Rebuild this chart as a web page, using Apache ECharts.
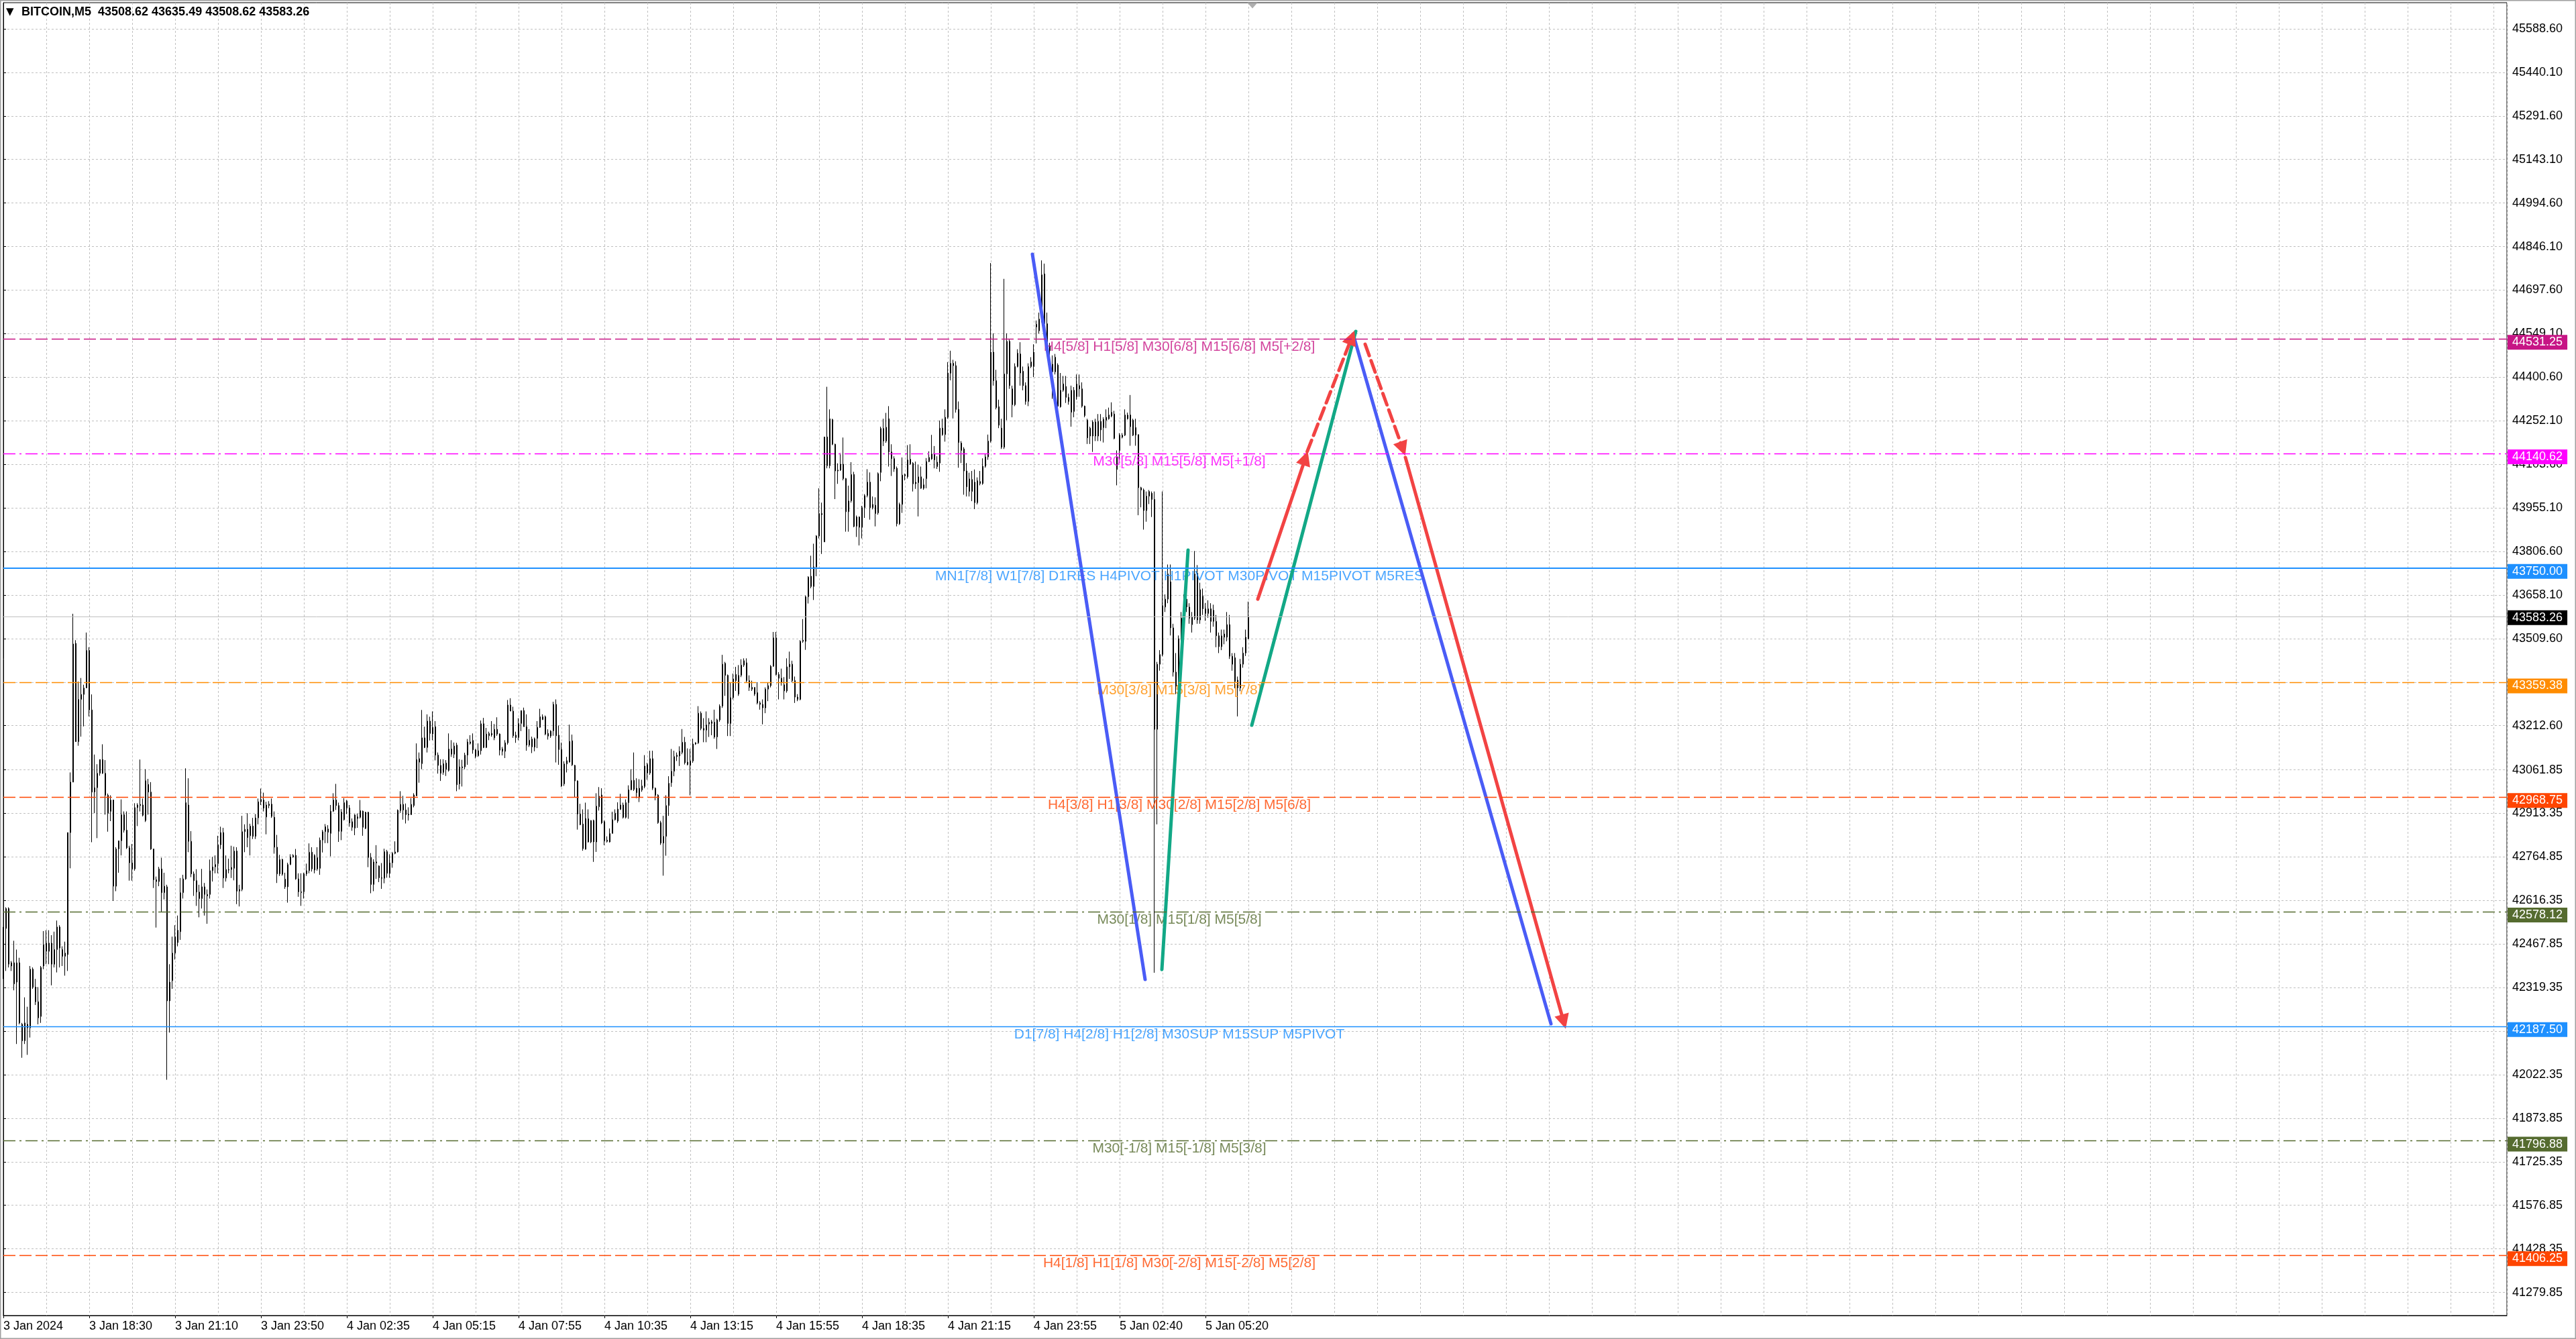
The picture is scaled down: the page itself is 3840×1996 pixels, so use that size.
<!DOCTYPE html>
<html><head><meta charset="utf-8">
<script src="https://cdn.jsdelivr.net/npm/echarts@6/dist/echarts.min.js"></script>
<style>html,body{margin:0;padding:0;background:#fff;overflow:hidden}#c{width:3840px;height:1996px}</style>
</head><body><div id="c"></div>
<script>
// ---------------- DATA ----------------
const symbolName = 'BITCOIN,M5';
const lastQuote = [43508.62, 43635.49, 43508.62, 43583.26]; // open high low close
const timeLabels = ['3 Jan 2024','3 Jan 18:30','3 Jan 21:10','3 Jan 23:50','4 Jan 02:35','4 Jan 05:15','4 Jan 07:55','4 Jan 10:35','4 Jan 13:15','4 Jan 15:55','4 Jan 18:35','4 Jan 21:15','4 Jan 23:55','5 Jan 02:40','5 Jan 05:20'];
const priceTicks = [45588.60,45440.10,45291.60,45143.10,44994.60,44846.10,44697.60,44549.10,44400.60,44252.10,44103.60,43955.10,43806.60,43658.10,43509.60,43361.10,43212.60,43061.85,42913.35,42764.85,42616.35,42467.85,42319.35,42170.85,42022.35,41873.85,41725.35,41576.85,41428.35,41279.85];
// tick labels fully covered by level price boxes in the picture
const coveredTickLabels = [43361.10, 42170.85];
// each candle: [open, close, low, high]
const candles = [
[42443,42521,42349,42526],[42521,42589,42376,42593],[42589,42399,42388,42593],[42393,42404,42376,42410],[42404,42332,42310,42479],
[42338,42404,42127,42449],[42404,42199,42194,42421],[42194,42138,42080,42199],[42138,42199,42127,42286],[42194,42182,42090,42254],
[42182,42382,42149,42393],[42382,42321,42315,42388],[42321,42271,42260,42349],[42271,42216,42194,42321],[42221,42388,42199,42393],
[42393,42465,42382,42512],[42471,42443,42399,42515],[42443,42471,42399,42515],[42471,42399,42327,42498],[42449,42399,42388,42510],
[42449,42526,42371,42548],[42526,42454,42388,42532],[42449,42426,42393,42460],[42426,42437,42360,42476],[42432,42848,42376,42848],
[42848,43020,42726,43053],[43020,43491,43020,43594],[43493,43158,43158,43504],[43158,43302,43144,43363],[43302,43319,43175,43375],
[43319,43341,43210,43352],[43341,43469,43341,43530],[43469,43266,43244,43480],[43266,42986,42815,43319],[42986,43001,42914,43114],
[43001,43050,42829,43081],[43050,43097,43042,43097],[43097,43050,43048,43149],[43050,42975,42909,43095],[42975,42914,42851,42981],
[42920,42959,42887,42975],[42959,42665,42615,42959],[42665,42792,42648,42798],[42792,42820,42711,42820],[42820,42909,42770,42961],
[42909,42856,42848,42920],[42856,42796,42792,42920],[42796,42745,42684,42803],[42745,42724,42684,42809],[42724,42933,42718,42948],
[42933,42942,42870,42948],[42940,42944,42920,43097],[42942,42907,42903,42964],[42889,43025,42884,43064],[43012,42986,42909,43031],
[42986,42792,42789,43020],[42792,42687,42659,42792],[42687,42681,42524,42698],[42681,42724,42665,42731],[42724,42643,42576,42762],
[42643,42665,42620,42711],[42663,42274,42005,42670],[42274,42338,42166,42399],[42343,42437,42315,42493],[42437,42493,42415,42532],
[42473,42515,42460,42565],[42510,42643,42482,42693],[42643,42690,42623,42704],[42690,42950,42687,43067],[42942,42818,42781,43033],
[42818,42707,42696,42853],[42707,42684,42632,42715],[42684,42645,42598,42723],[42645,42623,42559,42670],[42623,42663,42589,42724],
[42663,42637,42565,42676],[42632,42637,42537,42654],[42637,42718,42623,42756],[42718,42731,42681,42765],[42731,42739,42709,42770],
[42742,42806,42709,42837],[42806,42848,42792,42868],[42848,42693,42659,42864],[42693,42722,42681,42770],[42720,42722,42709,42759],
[42722,42729,42693,42803],[42726,42785,42685,42800],[42785,42648,42604,42798],[42648,42654,42596,42670],[42654,42851,42648,42905],
[42851,42859,42781,42876],[42859,42831,42798,42914],[42837,42870,42770,42878],[42870,42835,42826,42898],[42835,42898,42826,42911],
[42898,42953,42876,42964],[42953,42961,42942,42998],[42959,42931,42920,42984],[42901,42942,42842,42953],[42940,42945,42931,42955],
[42945,42903,42898,42964],[42900,42798,42776,42920],[42798,42707,42676,42840],[42707,42756,42700,42772],[42756,42706,42701,42759],
[42689,42663,42656,42711],[42663,42739,42609,42745],[42739,42765,42737,42774],[42765,42770,42762,42774],[42770,42690,42687,42792],
[42690,42646,42629,42709],[42643,42646,42598,42709],[42646,42707,42623,42711],[42707,42718,42700,42742],[42718,42781,42709,42811],
[42781,42724,42715,42798],[42720,42770,42709,42774],[42762,42724,42718,42798],[42726,42822,42704,42831],
[42822,42851,42780,42857],[42851,42868,42812,42877],[42860,42849,42812,42873],[42845,42921,42767,42942],[42921,42959,42918,42982],
[42959,42940,42925,43014],[42940,42852,42816,42950],[42852,42918,42822,42928],[42892,42950,42889,42965],[42955,42932,42911,42959],
[42932,42881,42868,42942],[42885,42866,42854,42896],[42863,42908,42839,42911],[42896,42902,42864,42913],[42900,42923,42896,42959],
[42921,42866,42837,42923],[42862,42917,42860,42919],[42917,42763,42730,42919],[42763,42671,42641,42778],[42671,42748,42648,42757],
[42744,42748,42690,42805],[42734,42694,42679,42736],[42694,42692,42656,42744],[42692,42783,42675,42793],[42783,42709,42694,42789],
[42709,42745,42694,42774],[42745,42777,42728,42782],[42777,42782,42774,42818],[42782,42924,42780,42927],[42923,42944,42915,42989],
[42944,42925,42892,42973],[42925,42909,42879,42947],[42911,42908,42889,42934],[42909,42944,42908,42965],[42940,42976,42934,42982],
[42973,43097,42973,43152],[43088,43100,43018,43121],[43083,43171,43064,43266],[43171,43138,43136,43209],[43138,43228,43121,43251],
[43228,43186,43162,43243],[43184,43207,43163,43261],[43209,43112,43094,43228],[43112,43077,43049,43121],[43077,43050,43024,43098],
[43053,43083,43045,43098],[43085,43064,43041,43095],[43060,43133,43056,43186],[43133,43115,43106,43163],[43115,43143,43102,43155],
[43146,43011,42989,43154],[43014,43072,42995,43098],[43072,43069,43005,43096],[43072,43112,43064,43120],[43112,43157,43079,43167],
[43152,43157,43148,43180],[43162,43130,43117,43186],[43130,43108,43101,43133],[43110,43127,43106,43152],[43127,43219,43114,43230],
[43219,43138,43136,43239],[43138,43184,43136,43205],[43178,43186,43163,43192],[43186,43181,43175,43228],[43171,43200,43163,43218],
[43200,43184,43178,43241],[43184,43129,43111,43186],[43133,43125,43111,43140],[43125,43154,43102,43163],[43154,43283,43148,43300],
[43283,43262,43262,43306],[43262,43178,43171,43277],[43180,43172,43154,43192],[43172,43220,43163,43238],[43220,43264,43194,43264],
[43264,43209,43209,43274],[43209,43146,43127,43251],[43146,43163,43140,43201],[43140,43167,43119,43175],[43139,43168,43125,43172],
[43169,43207,43136,43228],[43207,43243,43205,43270],[43233,43243,43232,43251],[43243,43184,43180,43247],[43186,43177,43165,43200],
[43177,43194,43171,43197],[43195,43285,43178,43294],[43285,43178,43087,43302],[43180,43131,43079,43213],[43131,43007,43003,43155],
[43014,43082,43007,43091],[43082,43093,43053,43106],[43088,43159,43087,43216],[43161,43079,43075,43182],[43077,43024,42969,43079],
[43024,42911,42858,43026],[42911,42875,42873,42946],[42877,42793,42786,42927],[42791,42896,42790,42950],[42895,42816,42814,42927],
[42816,42889,42812,42890],[42889,42816,42748,42892],[42816,42938,42782,42982],[42936,42972,42923,43003],[42976,42881,42877,42999],
[42885,42820,42805,42889],[42818,42822,42814,42835],[42816,42845,42814,42862],[42845,42892,42845,42919],[42892,42914,42889,42927],
[42887,42928,42881,42951],[42927,42942,42925,42980],[42942,42900,42896,42950],[42900,42950,42896,42961],[42950,42994,42895,43009],
[42994,43026,42992,43064],[43026,42995,42990,43121],[42999,42984,42965,43033],
[42967,42999,42952,43030],[42993,43007,42987,43028],[43005,43075,42999,43112],[43051,43080,43028,43086],[43051,43100,43045,43127],
[43100,42999,42993,43127],[42999,42975,42958,43002],[42975,42882,42878,42979],[42882,42812,42806,42888],[42812,42835,42701,42905],
[42835,42940,42769,42975],[42940,43016,42905,43040],[43018,43057,43004,43133],[43057,43107,43040,43127],[43107,43112,43092,43121],
[43109,43125,43075,43142],[43121,43156,43115,43201],[43156,43086,43080,43174],[43088,43080,43077,43135],[43077,43092,42975,43133],
[43092,43150,43086,43168],[43150,43154,43147,43156],[43154,43255,43150,43279],[43255,43203,43197,43261],[43203,43197,43156,43238],
[43197,43215,43156,43261],[43218,43224,43174,43238],[43220,43226,43180,43232],[43224,43174,43168,43267],[43174,43232,43133,43236],
[43232,43279,43226,43285],[43279,43422,43273,43454],[43425,43384,43314,43430],[43384,43220,43177,43387],[43220,43308,43177,43360],
[43308,43372,43302,43390],[43387,43366,43331,43413],[43320,43384,43314,43419],[43384,43419,43378,43439],[43419,43434,43413,43442],
[43427,43366,43360,43442],[43366,43343,43331,43384],[43343,43337,43331,43366],[43343,43320,43314,43343],[43325,43290,43285,43360],
[43290,43285,43267,43296],[43273,43285,43217,43302],[43273,43337,43255,43343],[43337,43349,43296,43360],[43349,43415,43343,43419],
[43415,43512,43413,43532],[43512,43387,43384,43532],[43387,43374,43302,43395],[43374,43360,43349,43407],[43352,43331,43302,43378],
[43331,43413,43325,43442],[43413,43422,43372,43465],[43422,43366,43360,43434],[43366,43310,43290,43380],[43310,43302,43296,43320],
[43302,43500,43299,43504],[43500,43504,43495,43576],[43500,43652,43471,43656],[43652,43719,43629,43722],[43722,43687,43681,43792],
[43687,43754,43641,43833],[43754,43859,43722,43862],[43859,43936,43851,44022],[43936,43932,43798,43973],[43839,44197,43839,44197],
[44197,44099,44090,44368],[44099,44259,44090,44291],[44256,44172,44169,44259],[44172,44081,43985,44174],[44081,44084,44037,44107],
[44084,44104,44081,44142],[44104,44055,44049,44195],[44055,43942,43874,44057],[43942,43979,43874,44031],[43979,44069,43973,44111],
[44069,43892,43889,44078],[43892,43924,43856,43929],[43924,43889,43827,43926],[43889,43956,43851,43962],[43956,43997,43921,44002],
[43997,44043,43991,44087],[44043,43956,43915,44076],[43956,43967,43950,43994],[43964,43936,43892,43991],[43938,44072,43932,44076],
[44076,44226,44046,44232],[44226,44183,44166,44259],[44183,44230,44177,44279],[44259,44146,44096,44302],[44146,44123,44064,44172],
[44123,44088,44078,44131],[44090,43901,43892,44096],[43901,43967,43897,43973],[43967,44067,43938,44127],[44064,44069,44049,44072],
[44061,44119,44055,44169],[44105,44121,44102,44172],[44107,44037,44011,44111],[44037,44043,44020,44113],[44041,44061,43926,44102],
[44061,44022,44020,44096],[44022,44034,44017,44055],[44055,44113,44022,44125],[44113,44127,44111,44148],[44122,44139,44119,44204],
[44139,44119,44090,44166],[44111,44096,44088,44131],
[44108,44227,44078,44253],[44227,44205,44201,44259],[44205,44264,44181,44291],[44264,44415,44259,44452],[44414,44448,44390,44491],
[44448,44440,44260,44460],[44440,44291,44280,44455],[44291,44178,44092,44318],[44176,44151,44108,44183],[44156,44081,44000,44162],
[44081,44027,43994,44108],[44011,44054,43994,44075],[44011,44052,43978,44081],[44043,43973,43951,44086],[43973,44048,43967,44059],
[44038,44045,44032,44081],[44038,44097,44034,44124],[44097,44129,44092,44140],[44129,44183,44119,44205],[44183,44486,44178,44790],
[44486,44389,44372,44550],[44389,44297,44291,44426],[44300,44237,44227,44324],[44227,44162,44156,44259],[44162,44412,44156,44736],
[44412,44523,44254,44550],[44523,44372,44361,44529],[44361,44307,44264,44372],[44307,44437,44302,44448],[44437,44483,44434,44496],
[44480,44415,44372,44520],[44421,44372,44356,44437],[44372,44318,44307,44383],[44318,44437,44302,44448],[44437,44453,44432,44469],
[44437,44486,44401,44513],[44572,44581,44516,44594],[44559,44599,44550,44621],[44594,44750,44588,44799],[44753,44583,44577,44788],
[44583,44507,44502,44621],[44491,44507,44432,44518],[44419,44445,44327,44475],[44419,44469,44410,44480],[44442,44302,44297,44448],
[44300,44356,44297,44415],[44356,44378,44351,44405],[44369,44332,44313,44405],[44332,44318,44307,44345],[44281,44356,44232,44372],
[44356,44284,44264,44367],[44334,44378,44324,44410],[44372,44361,44334,44410],[44361,44302,44297,44383],[44302,44270,44264,44304],
[44254,44194,44173,44259],[44200,44227,44173,44232],[44200,44248,44146,44254],[44248,44200,44183,44259],[44200,44250,44183,44275],
[44250,44221,44183,44275],[44229,44257,44178,44264],[44254,44264,44227,44291],[44259,44272,44256,44297],[44268,44281,44264,44315],
[44275,44192,44189,44286],[44086,44129,44032,44151],[44151,44203,44119,44210],[44196,44203,44192,44210],[44203,44272,44200,44291],
[44259,44272,44256,44280],[44272,44232,44167,44340],[44254,44203,44200,44259],[44229,44203,44167,44259],[44205,44024,43930,44205],
[44024,44016,43957,44027],[44016,43946,43881,44021],[43946,43995,43908,44011],[43995,44011,43968,44016],[44005,43984,43924,44011],
[43984,43200,42370,44011],[43200,43422,42876,43430],[43422,43455,43400,43470],[43455,43622,43449,44011],[43617,43644,43600,43660],
[43644,43730,43630,43762],[43703,43546,43520,43762],[43546,43395,43380,43560],[43395,43347,43320,43460],[43352,43509,43330,43520],
[43509,43579,43500,43600],[43579,43638,43560,43660],[43617,43644,43600,43660],[43617,43579,43560,43630],[43557,43584,43530,43600],
[43579,43730,43573,43808],[43732,43573,43560,43760],[43573,43676,43560,43700],[43654,43611,43590,43680],[43611,43595,43570,43630],
[43595,43611,43580,43640],[43611,43568,43530,43630],[43568,43606,43550,43625],[43568,43519,43480,43590],[43519,43482,43460,43530],
[43482,43519,43470,43540],[43525,43514,43490,43540],[43514,43557,43500,43600],[43557,43449,43440,43590],[43449,43422,43400,43460],
[43444,43363,43340,43460],[43368,43341,43244,43380],[43341,43422,43330,43440],[43422,43460,43410,43480],[43460,43514,43450,43540],
[43508.62,43583.26,43508.62,43635.49]
];
const levelValues = [44531.25, 44140.62, 43750.00, 43359.38, 42968.75, 42578.12, 42187.50, 41796.88, 41406.25];
const levelTexts = [
 'H4[5/8] H1[5/8] M30[6/8] M15[6/8] M5[+2/8]',
 'M30[5/8] M15[5/8] M5[+1/8]',
 'MN1[7/8] W1[7/8] D1RES H4PIVOT H1PIVOT M30PIVOT M15PIVOT M5RES',
 'M30[3/8] M15[3/8] M5[7/8]',
 'H4[3/8] H1[3/8] M30[2/8] M15[2/8] M5[6/8]',
 'M30[1/8] M15[1/8] M5[5/8]',
 'D1[7/8] H4[2/8] H1[2/8] M30SUP M15SUP M5PIVOT',
 'M30[-1/8] M15[-1/8] M5[3/8]',
 'H4[1/8] H1[1/8] M30[-2/8] M15[-2/8] M5[2/8]'
];
// drawn analysis lines: [[barIndex, price], [barIndex, price]]
const blueLines = [[[383.5,44820],[425.5,42347]], [[503,44548],[576.75,42196]]];
const greenLines = [[[431.75,42381],[441.5,43811]], [[465.25,43214],[504,44557]]];
const redSolidArrows = [[[467.5,43644],[485.25,44125]], [[522.5,44127],[581.5,42203]]];
const redDashedArrows = [[[485.9,44147],[502.5,44536]], [[507.5,44513],[521.5,44157]]];

// ---------------- STYLE / LAYOUT ----------------
const levelStyles = [
 {color:'#C71585', type:[18,6], width:1.3},
 {color:'#FF00FF', type:[18,6,3,6], width:1.3},
 {color:'#1E90FF', type:'solid', width:2},
 {color:'#FF8C00', type:[18,6], width:1.3},
 {color:'#FF4500', type:[18,6], width:1.3},
 {color:'#556B2F', type:[18,6,3,6], width:1.3},
 {color:'#1E90FF', type:'solid', width:1.3},
 {color:'#556B2F', type:[18,6,3,6], width:1.3},
 {color:'#FF4500', type:[18,6], width:1.3}
];
const FONT = 'Liberation Sans, Arial, sans-serif';
const BARS_PER_LABEL = 32;
const TOTAL_SLOTS = 933;
const TEXT_CENTER_BAR = 438.25;
const Y_MIN = 41201.1, Y_MAX = 45677.8;

const chart = echarts.init(document.getElementById('c'), null, {renderer:'canvas'});

const markLineData = levelValues.map((v, i) => ({
  yAxis: v,
  lineStyle: {color: levelStyles[i].color, type: levelStyles[i].type, width: levelStyles[i].width},
  label: {show:true, position:'end', distance:1, offset:[0,5], formatter: v.toFixed(2), color:'#fff',
          backgroundColor: levelStyles[i].color, padding:[2,7,2,7], fontSize:18, lineHeight:18, fontFamily:FONT}
}));
const lastClose = candles[candles.length-1][1];
markLineData.push({
  yAxis: lastClose,
  lineStyle: {color:'#C0C0C0', type:'solid', width:1},
  label: {show:true, position:'end', distance:1, offset:[0,1], formatter: lastClose.toFixed(2), color:'#fff',
          backgroundColor:'#000', padding:[2,7,2,7], fontSize:18, lineHeight:18, fontFamily:FONT}
});

function linesSeries(name, segs, color, dashed, arrow) {
  return {
    type:'lines', name, coordinateSystem:'cartesian2d', xAxisIndex:0, yAxisIndex:0, silent:true, z:5,
    polyline:false,
    symbol: arrow ? ['none','triangle'] : ['none','none'],
    symbolSize: arrow ? 22 : 0,
    lineStyle:{color, width:5, type: dashed ? [18,8] : 'solid', cap:'round', opacity:1, curveness:0},
    data: segs.map(s => ({coords: s}))
  };
}

const option = {
  animation:false,
  backgroundColor:'#ffffff',
  graphic: [{type:'rect', silent:true, z:100, shape:{x:0.5, y:0.5, width:3839, height:1995},
             style:{fill:'none', stroke:'#a0a0a0', lineWidth:2}}],
  title: {
    text: '{tri|▼}{t|' + symbolName + '  ' + [lastQuote[0], lastQuote[1], lastQuote[2], lastQuote[3]].map(v => v.toFixed(2)).join(' ') + '}',
    left: 9, top: 9, padding: 0,
    textStyle: {rich: {
      tri: {fontSize: 15, color:'#000', width: 23, fontFamily: 'DejaVu Sans'},
      t: {fontSize: 18, color:'#000', fontFamily: FONT}
    }}
  },
  grid: {left:5, right:103, top:4, bottom:35, show:true, borderColor:'#000', borderWidth:1, backgroundColor:'#fff', containLabel:false},
  xAxis: [
    {type:'value', min:0, max:TOTAL_SLOTS, interval:16, position:'bottom', z:0,
     axisLine:{show:false}, axisTick:{show:false}, axisLabel:{show:false},
     splitLine:{show:true, lineStyle:{color:'#C0C0C0', type:[3,3], width:1}}},
    {type:'value', min:0, max:TOTAL_SLOTS, interval:BARS_PER_LABEL, position:'bottom', z:0,
     axisLine:{show:true, onZero:false, lineStyle:{color:'#000', width:1}},
     axisTick:{show:true, length:4, inside:false, lineStyle:{color:'#000'}, customValues: timeLabels.map((_, i) => i*BARS_PER_LABEL)},
     axisLabel:{show:true, customValues: timeLabels.map((_, i) => i*BARS_PER_LABEL), formatter: v => timeLabels[Math.round(v/BARS_PER_LABEL)] || '',
       align:'left', margin:7, fontSize:18, color:'#000', fontFamily:FONT, showMinLabel:true, showMaxLabel:true, hideOverlap:false},
     splitLine:{show:false}}
  ],
  yAxis: [{
    type:'value', min:Y_MIN, max:Y_MAX, position:'right', scale:true, z:0,
    axisLine:{show:true, lineStyle:{color:'#000', width:1}},
    axisTick:{show:true, length:4, lineStyle:{color:'#000'}, customValues: priceTicks},
    axisLabel:{show:true, customValues: priceTicks.filter(v => !coveredTickLabels.includes(v)), formatter: v => Number(v).toFixed(2), margin:8, fontSize:18, color:'#000', fontFamily:FONT, hideOverlap:false},
    splitLine:{show:true, lineStyle:{color:'#C0C0C0', type:[3,3], width:1}}
  }],
  series: [
    {
      type:'candlestick', name:'BITCOIN', xAxisIndex:0, yAxisIndex:0, barWidth:2, z:3,
      encode:{x:0, y:[1,2,3,4]},
      data: candles.map((c, i) => [i, c[0], c[1], c[2], c[3]]),
      itemStyle:{color:'#ffffff', color0:'#000000', borderColor:'#000000', borderColor0:'#000000', borderWidth:1},
      markLine:{silent:true, z:20, symbol:['none','none'], animation:false, precision:2, data: markLineData}
    },
    {
      type:'scatter', name:'levelText', xAxisIndex:0, yAxisIndex:0, symbolSize:0, silent:true, z:4,
      data: levelValues.map((v, i) => ({value:[TEXT_CENTER_BAR, v],
        label:{formatter: levelTexts[i], color: levelStyles[i].color}})),
      label:{show:true, position:'inside', offset:[0,12], fontSize:21, fontFamily:FONT, align:'center', verticalAlign:'middle'}
    },
    linesSeries('blue', blueLines, '#4a5cf6', false, false),
    linesSeries('green', greenLines, '#12a886', false, false),
    linesSeries('redSolid', redSolidArrows, '#f24343', false, true),
    linesSeries('redDashed', redDashedArrows, '#f24343', true, true),
    {
      type:'scatter', name:'shift', xAxisIndex:0, yAxisIndex:0, silent:true, z:6,
      symbol:'triangle', symbolRotate:180, symbolSize:[16,9], symbolOffset:[0,4],
      itemStyle:{color:'#9a9a9a'},
      data:[[candles.length + 0.5, Y_MAX]]
    }
  ]
};
chart.setOption(option);
</script>
</body></html>
